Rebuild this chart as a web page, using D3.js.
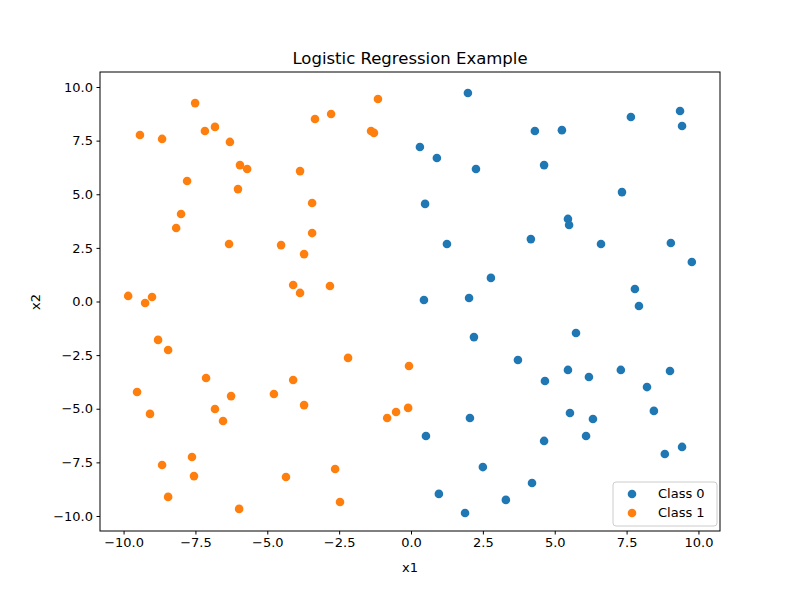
<!DOCTYPE html>
<html><head><meta charset="utf-8">
<script src="https://cdn.jsdelivr.net/npm/d3@7"></script>
<style>body{margin:0;background:#fff}text{font-family:"DejaVu Sans",sans-serif}</style>
</head><body><svg id="c" width="800" height="600"></svg>
<script>
const class0X=[1.98,4.31,5.25,7.65,9.36,9.43,0.31,0.90,4.63,2.26,7.34,0.49,5.46,5.50,1.25,4.17,6.61,9.04,9.77,2.78,7.79,7.93,0.45,2.02,5.74,2.19,3.72,5.46,6.19,7.30,9.01,4.66,8.21,8.45,5.53,6.33,2.05,0.52,4.63,6.09,9.43,8.83,2.50,0.97,4.21,3.30,1.88];
const class0Y=[9.72,7.95,7.99,8.60,8.88,8.18,7.20,6.69,6.36,6.18,5.10,4.55,3.85,3.57,2.68,2.91,2.68,2.73,1.84,1.10,0.58,-0.21,0.07,0.16,-1.47,-1.66,-2.73,-3.19,-3.52,-3.19,-3.24,-3.71,-3.99,-5.10,-5.20,-5.48,-5.43,-6.27,-6.50,-6.27,-6.78,-7.11,-7.72,-8.97,-8.46,-9.25,-9.86];
const class1X=[-7.51,-1.15,-9.43,-8.66,-7.17,-6.82,-6.30,-3.34,-2.78,-1.39,-1.29,-5.95,-5.70,-3.86,-7.79,-6.02,-3.44,-8.00,-8.17,-3.44,-6.33,-4.52,-3.72,-9.84,-9.01,-9.25,-4.10,-3.86,-2.82,-8.80,-8.45,-2.19,-0.07,-7.13,-4.10,-9.53,-4.77,-6.26,-3.72,-9.08,-6.82,-0.10,-0.52,-0.83,-6.54,-7.62,-8.66,-2.64,-7.55,-4.35,-8.45,-2.47,-5.98];
const class1Y=[9.25,9.44,7.76,7.58,7.95,8.14,7.44,8.51,8.74,7.95,7.86,6.36,6.18,6.08,5.62,5.24,4.59,4.08,3.43,3.19,2.68,2.63,2.21,0.26,0.21,-0.07,0.77,0.40,0.72,-1.79,-2.26,-2.63,-3.01,-3.57,-3.66,-4.22,-4.31,-4.41,-4.83,-5.24,-5.01,-4.96,-5.15,-5.43,-5.57,-7.25,-7.62,-7.81,-8.14,-8.18,-9.11,-9.35,-9.67];
const xTicks=[-10,-7.5,-5,-2.5,0,2.5,5,7.5,10];
const yTicks=[-10,-7.5,-5,-2.5,0,2.5,5,7.5,10];
const svg=d3.select("#c");
const L=100,R=720,T=72,B=531;
const x=d3.scaleLinear().domain([-10.82,10.75]).range([L,R]);
const y=d3.scaleLinear().domain([-10.70,10.70]).range([B,T]);
const fmt=d3.format(".1f");
const fmtT=v=>fmt(v).replace("-","\u2212");
const xa=svg.append("g").attr("transform",`translate(0,${B})`).call(d3.axisBottom(x).tickValues(xTicks).tickFormat(fmtT).tickSizeOuter(0).tickSize(3.5).tickPadding(3.5));
const ya=svg.append("g").attr("transform",`translate(${L},0)`).call(d3.axisLeft(y).tickValues(yTicks).tickFormat(fmtT).tickSizeOuter(0).tickSize(3.5).tickPadding(3.5));
[xa,ya].forEach(a=>{a.select(".domain").remove();a.selectAll("text").attr("font-size",13).attr("fill","#000");a.selectAll("line").attr("stroke","#000");});
svg.append("rect").attr("x",L).attr("y",T).attr("width",R-L).attr("height",B-T).attr("fill","none").attr("stroke","#000").attr("stroke-width",1);
const c0=d3.zip(class0X,class0Y),c1=d3.zip(class1X,class1Y);
svg.append("g").selectAll("circle").data(c0).join("circle").attr("cx",d=>x(d[0])).attr("cy",d=>y(d[1])).attr("r",4.3).attr("fill","#1f77b4");
svg.append("g").selectAll("circle").data(c1).join("circle").attr("cx",d=>x(d[0])).attr("cy",d=>y(d[1])).attr("r",4.3).attr("fill","#ff7f0e");
svg.append("text").attr("x",(L+R)/2).attr("y",64).attr("text-anchor","middle").attr("font-size",16.5).text("Logistic Regression Example");
svg.append("text").attr("x",(L+R)/2).attr("y",572).attr("text-anchor","middle").attr("font-size",13).text("x1");
svg.append("text").attr("transform","translate(40,302) rotate(-90)").attr("text-anchor","middle").attr("font-size",13).text("x2");
const lg=svg.append("g");
lg.append("rect").attr("x",613).attr("y",482).attr("width",104).attr("height",44).attr("rx",3).attr("fill","#fff").attr("fill-opacity",0.8).attr("stroke","#ccc");
[["Class 0","#1f77b4"],["Class 1","#ff7f0e"]].forEach((d,i)=>{
 lg.append("circle").attr("cx",632).attr("cy",494+i*19).attr("r",4.3).attr("fill",d[1]);
 lg.append("text").attr("x",658).attr("y",498+i*19).attr("font-size",13).text(d[0]);
});
</script></body></html>
